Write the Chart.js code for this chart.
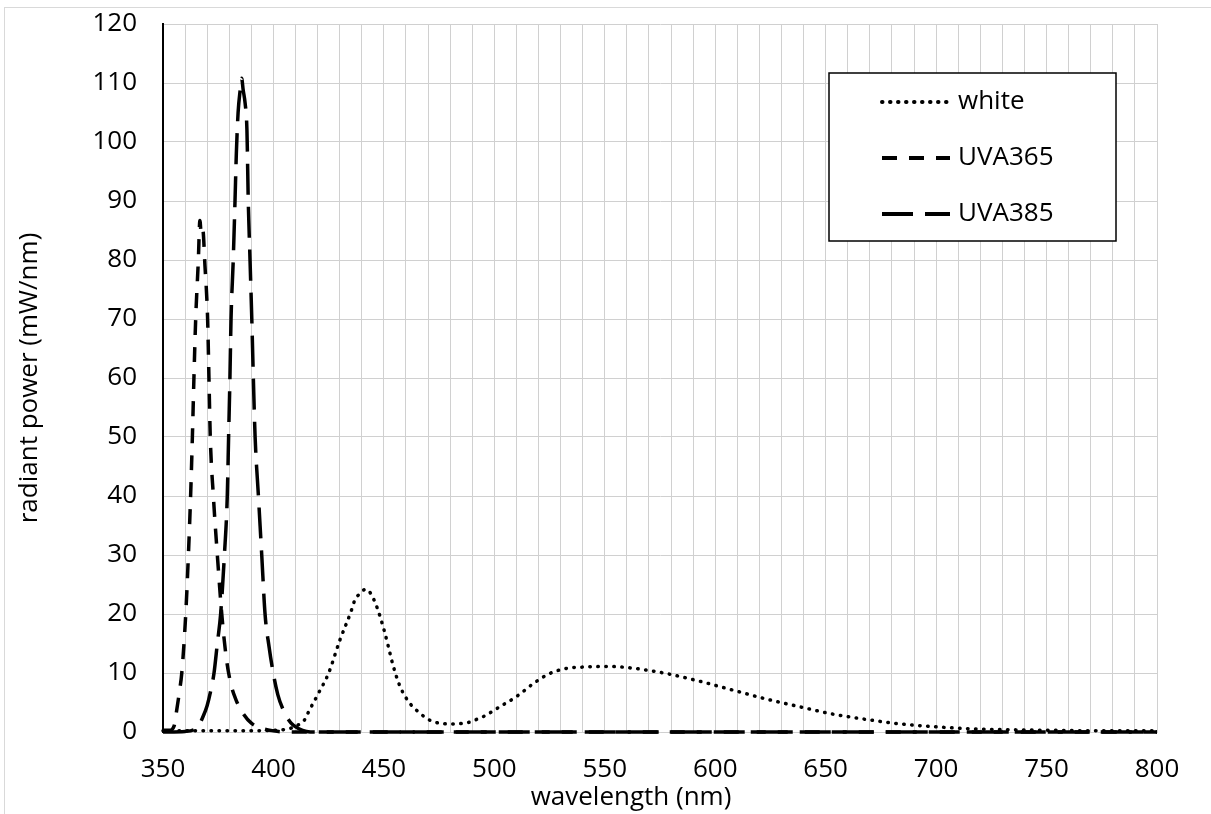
<!DOCTYPE html>
<html>
<head>
<meta charset="utf-8">
<title>radiant power</title>
<script src="https://cdn.jsdelivr.net/npm/chart.js@4.4.0/dist/chart.umd.min.js"></script>
<style>
  html, body { margin: 0; padding: 0; background: #fff; overflow: hidden; }
  #moldura { position: absolute; left: 4px; top: 7px; width: 1400px; height: 1000px;
             border-left: 1.5px solid #d9d9d9; border-top: 1.5px solid #d9d9d9; }
  #caixa { position: absolute; left: 0; top: 0; width: 1211px; height: 814px; }
</style>
</head>
<body>
<div id="moldura"></div>
<div id="caixa"><canvas id="espectro" width="1211" height="814"></canvas></div>
<script>
// Dados (nm, mW/nm)

var whiteNm  = [350, 380, 405, 410, 414, 416, 420, 425, 430, 435, 437, 439, 441, 442, 443, 445, 447, 450, 452, 454, 457, 460, 463, 466, 469, 472, 476, 480, 484, 488, 491, 495, 503, 510, 518, 525, 533, 540, 552, 563, 578, 593, 608, 623, 638, 653, 668, 684, 699, 714, 730, 750, 775, 800];
var whiteVal = [0.2, 0.2, 0.4, 1, 2, 3.5, 6.3, 10, 15.5, 20.3, 22.5, 23.4, 24.1, 24.2, 24, 22.8, 21, 17.4, 14.5, 11.5, 8, 5.8, 4.3, 3.3, 2.4, 1.8, 1.45, 1.36, 1.4, 1.6, 2, 2.6, 4.4, 6, 8.3, 9.9, 10.8, 11, 11.1, 10.8, 9.9, 8.6, 7.1, 5.6, 4.3, 3.05, 2.15, 1.36, 0.9, 0.57, 0.4, 0.3, 0.2, 0.2];

var uva365Nm  = [350, 353, 355, 356.2, 357.5, 358.5, 360.3, 361.5, 362.5, 363.3, 364, 364.8, 366, 366.7, 367.3, 368, 369, 370.2, 370.8, 371.4, 372.8, 374.6, 376.6, 378.5, 380.5, 383, 386, 390, 395, 400, 405, 800];
var uva365Val = [0.3, 0.3, 1, 3.7, 7, 10, 20, 30, 40, 50, 60, 70, 80, 86.7, 84.5, 85.2, 79, 70, 60, 50, 40, 30, 20, 13, 8.5, 5.5, 3.3, 1.5, 0.6, 0.2, 0, 0];

var uva385Nm  = [350, 360, 364, 366, 368, 370, 372, 373.1, 374.6, 376.1, 377.8, 379.1, 379.7, 380.3, 380.8, 381.8, 382.6, 383.2, 384, 385, 385.6, 386.3, 387.2, 388, 388.6, 389.4, 390.2, 390.9, 391.7, 393.2, 394.7, 396.2, 398, 399.9, 402, 404.5, 408, 411.3, 415, 420, 800];
var uva385Val = [0, 0.1, 0.4, 1, 2.5, 4.5, 7.7, 10, 15, 20, 30, 40, 50, 60, 70, 80, 90, 98, 105, 109, 110.8, 108.8, 106.5, 102, 90, 80, 70, 60, 50, 40, 30, 20, 14.5, 10, 6.3, 3.7, 1.5, 0.6, 0.1, 0, 0];

var xTicks = [350, 400, 450, 500, 550, 600, 650, 700, 750, 800];

function pares(nm, val) {
  return nm.map(function (x, i) { return { x: x, y: val[i] }; });
}

Chart.defaults.font.family = '"Open Sans", sans-serif';
Chart.defaults.font.size = 26;
Chart.defaults.color = '#000';

// legenda dentro da area do grafico + titulo do eixo x
var legendaCaixa = {
  id: 'legendaCaixa',
  afterDraw: function (chart) {
    var ctx = chart.ctx;
    var area = chart.chartArea;
    var w = 287, h = 168;
    var left = area.right - 41 - w;
    var top = area.top + 49;

    ctx.save();
    ctx.fillStyle = '#fff';
    ctx.fillRect(left, top, w, h);
    ctx.strokeStyle = '#000';
    ctx.lineWidth = 1.5;
    ctx.strokeRect(left, top, w, h);

    ctx.font = '26px "Open Sans", sans-serif';
    ctx.textBaseline = 'middle';
    ctx.textAlign = 'left';
    chart.data.datasets.forEach(function (ds, i) {
      var y = top + 29 + i * 56;
      ctx.beginPath();
      ctx.setLineDash(ds.borderDash);
      ctx.lineCap = ds.borderCapStyle;
      ctx.lineWidth = ds.borderWidth + 0.5;
      ctx.strokeStyle = ds.borderColor;
      ctx.moveTo(left + 53, y);
      ctx.lineTo(left + 121, y);
      ctx.stroke();
      ctx.fillStyle = '#000';
      ctx.fillText(ds.label, left + 129, y);
    });

    ctx.setLineDash([]);
    ctx.textAlign = 'center';
    ctx.fillText('wavelength (nm)', (area.left + area.right) / 2 - 29, chart.height - 16);
    ctx.restore();
  }
};

var ctx = document.getElementById('espectro');

var grafico = new Chart(ctx, {
  type: 'line',
  data: {
    datasets: [
      {
        label: 'white',
        data: pares(whiteNm, whiteVal),
        borderColor: '#000',
        borderWidth: 3.5,
        borderDash: [0.5, 7.5],
        borderCapStyle: 'round',
        pointRadius: 0,
        cubicInterpolationMode: 'monotone',
        clip: 6,
        fill: false
      },
      {
        label: 'UVA365',
        data: pares(uva365Nm, uva365Val),
        borderColor: '#000',
        borderWidth: 3.5,
        borderDash: [15, 12],
        borderCapStyle: 'butt',
        pointRadius: 0,
        cubicInterpolationMode: 'monotone',
        clip: 6,
        fill: false
      },
      {
        label: 'UVA385',
        data: pares(uva385Nm, uva385Val),
        borderColor: '#000',
        borderWidth: 3.5,
        borderDash: [31, 12],
        borderCapStyle: 'butt',
        pointRadius: 0,
        cubicInterpolationMode: 'monotone',
        clip: 6,
        fill: false
      }
    ]
  },
  options: {
    responsive: false,
    animation: false,
    layout: { padding: { left: 0, top: 24, right: 54, bottom: 0 } },
    plugins: {
      legend: { display: false },
      tooltip: { enabled: false }
    },
    scales: {
      x: {
        type: 'linear',
        min: 350,
        max: 800,
        afterFit: function (scale) { scale.height = 82; },
        ticks: {
          stepSize: 10,
          autoSkip: false,
          maxRotation: 0,
          padding: 22,
          callback: function (v) { return xTicks.indexOf(v) >= 0 ? String(v) : ''; }
        },
        grid: { color: '#d0d0d0', lineWidth: 1, drawTicks: false },
        border: { color: '#d0d0d0', width: 1 }
      },
      y: {
        min: 0,
        max: 120,
        afterFit: function (scale) {
          scale.width = 163;
          scale.paddingTop = 0;
          scale.paddingBottom = 0;
        },
        ticks: { stepSize: 10, padding: 26 },
        grid: { color: '#d0d0d0', lineWidth: 1, drawTicks: false },
        border: { color: '#000', width: 2 },
        title: {
          display: true,
          text: 'radiant power (mW/nm)',
          font: { size: 26 },
          padding: { top: 14, bottom: 0 }
        }
      }
    }
  },
  plugins: [legendaCaixa]
});
</script>
</body>
</html>
